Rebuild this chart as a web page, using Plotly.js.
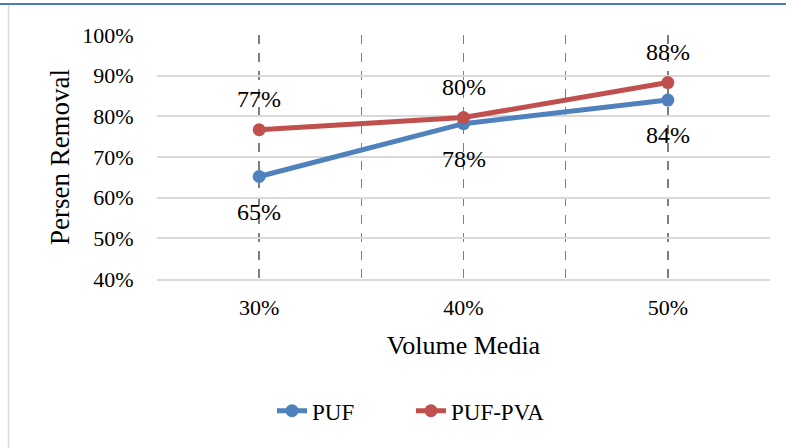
<!DOCTYPE html>
<html>
<head>
<meta charset="utf-8">
<script src="https://cdn.plot.ly/plotly-3.0.1.min.js"></script>
<style>html,body{margin:0;padding:0;background:#fff;}#chart{width:786px;height:448px;}</style>
</head>
<body>
<div id="chart"></div>
<script>
var categories = ['30%', '40%', '50%'];
var pufValues = [0.652, 0.782, 0.840];
var pufPvaValues = [0.767, 0.797, 0.883];
var yTickVals = [0.4, 0.5, 0.6, 0.7, 0.8, 0.9, 1.0];

var xIdx = categories.map(function (c, i) { return i; });
var xTickVals = [], xTickText = [];
for (var i = -1; i < categories.length; i++) {
  if (i >= 0) { xTickVals.push(i); xTickText.push(categories[i]); }
  xTickVals.push(i + 0.5); xTickText.push('');
}

var font = 'Liberation Serif';
function pct(v) { return Math.round(v * 100) + '%'; }

var traces = [
  {
    x: xIdx, y: pufValues, name: 'PUF', type: 'scatter', mode: 'lines+markers',
    line: {color: '#4f81bd', width: 5}, marker: {color: '#4f81bd', size: 13},
    cliponaxis: false, hoverinfo: 'none'
  },
  {
    x: xIdx, y: pufPvaValues, name: 'PUF-PVA', type: 'scatter', mode: 'lines+markers',
    line: {color: '#c0504d', width: 5}, marker: {color: '#c0504d', size: 13},
    cliponaxis: false, hoverinfo: 'none'
  }
];

var annotations = [];
xIdx.forEach(function (xi, k) {
  annotations.push({x: xi, y: pufValues[k], xref: 'x', yref: 'y', text: pct(pufValues[k]),
    showarrow: false, yshift: -35, font: {family: font, size: 24, color: '#000'}});
  annotations.push({x: xi, y: pufPvaValues[k], xref: 'x', yref: 'y', text: pct(pufPvaValues[k]),
    showarrow: false, yshift: 31, font: {family: font, size: 24, color: '#000'}});
});

var layout = {
  width: 786, height: 448,
  margin: {l: 157, r: 16, t: 35, b: 169},
  paper_bgcolor: '#fff', plot_bgcolor: '#fff',
  font: {family: font, color: '#000', size: 22},
  showlegend: true,
  legend: {
    orientation: 'h', xref: 'container', yref: 'container',
    x: 272 / 786, xanchor: 'left', y: 0.083, yanchor: 'middle',
    font: {family: font, size: 23, color: '#000'}, entrywidth: 94, entrywidthmode: 'pixels'
  },
  annotations: annotations,
  xaxis: {
    range: [-0.5, categories.length - 0.5],
    tickmode: 'array', tickvals: xTickVals, ticktext: xTickText,
    showgrid: true, gridcolor: '#7f7f7f', griddash: 'dash', gridwidth: 1.5,
    zeroline: false, showline: true, linecolor: '#d9d9d9', linewidth: 2,
    ticks: 'outside', ticklen: 8, tickcolor: 'rgba(0,0,0,0)',
    tickfont: {family: font, size: 22, color: '#000'},
    title: {text: 'Volume Media', font: {family: font, size: 26, color: '#000'}, standoff: 16}
  },
  yaxis: {
    range: [0.4, 1.0], tickmode: 'array', tickvals: yTickVals, tickformat: '.0%',
    showgrid: true, gridcolor: '#d9d9d9', gridwidth: 2,
    zeroline: false, showline: false,
    ticks: 'outside', ticklen: 18, tickcolor: 'rgba(0,0,0,0)',
    tickfont: {family: font, size: 22, color: '#000'},
    title: {text: 'Persen Removal', font: {family: font, size: 27, color: '#000'}, standoff: 4}
  }
};

var plotW = 786 - 157 - 16, plotH = 448 - 35 - 169;
function px2x(p) { return (p - 157) / plotW; }
function py2y(p) { return (448 - 169 - p) / plotH; }
layout.shapes = [
  {type: 'line', xref: 'paper', yref: 'paper', x0: px2x(0), x1: px2x(786), y0: py2y(4), y1: py2y(4),
   line: {color: '#4a7ebb', width: 2}, layer: 'above'},
  {type: 'line', xref: 'paper', yref: 'paper', x0: px2x(8.5), x1: px2x(8.5), y0: py2y(5), y1: py2y(448),
   line: {color: '#d9d9d9', width: 1.5}, layer: 'above'}
];

Plotly.newPlot('chart', traces, layout, {staticPlot: true, displayModeBar: false});
</script>
</body>
</html>
